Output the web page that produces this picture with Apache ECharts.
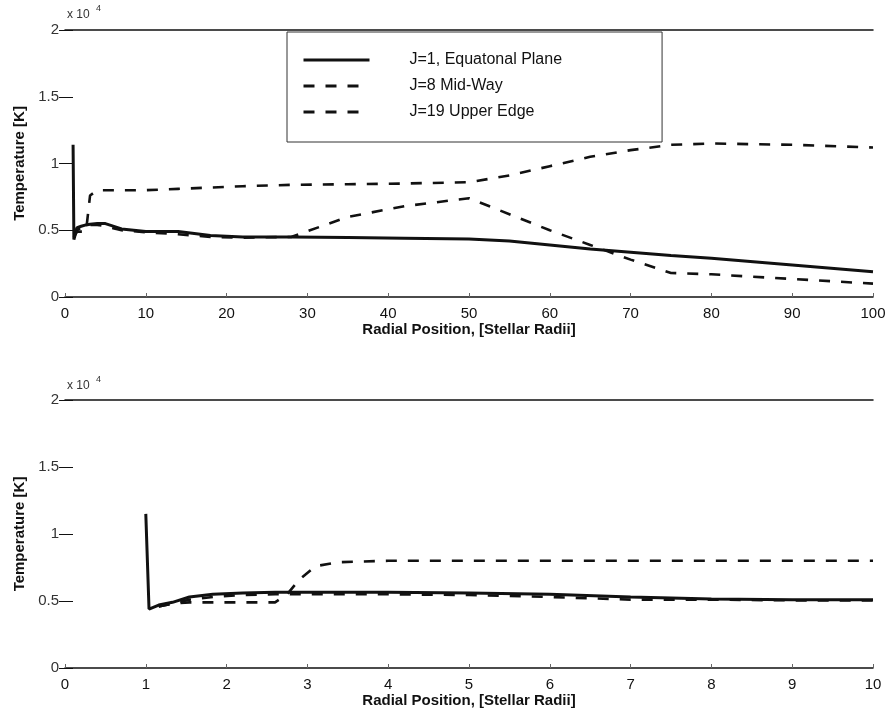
<!DOCTYPE html>
<html>
<head>
<meta charset="utf-8">
<script src="https://cdn.jsdelivr.net/npm/echarts@6/dist/echarts.min.js"></script>
<style>
html,body{margin:0;padding:0;background:#fff;}
#chart{width:893px;height:725px;}
</style>
</head>
<body>
<div id="chart"></div>
<script>
// ---- data (temperature in units of 10^4 K) ----
var seriesNames = ['J=1, Equatonal Plane', 'J=8 Mid-Way', 'J=19 Upper Edge'];
var yTicks = [0, 0.5, 1, 1.5, 2];

// top panel: radial position 0-100 stellar radii
var topR   = [1, 1.1, 1.5, 2, 2.6, 3.1, 4, 5, 7, 10, 14, 18, 22, 28, 35, 42, 50, 55, 60, 65, 70, 75, 80, 90, 100];
var topJ1  = [1.14, 0.43, 0.52, 0.53, 0.54, 0.545, 0.55, 0.55, 0.51, 0.49, 0.49, 0.46, 0.45, 0.45, 0.445, 0.44, 0.435, 0.42, 0.39, 0.36, 0.335, 0.31, 0.29, 0.24, 0.19];
var topJ8  = [null, 0.45, 0.5, 0.52, 0.53, 0.54, 0.54, 0.53, 0.5, 0.485, 0.47, 0.45, 0.445, 0.45, 0.6, 0.68, 0.74, 0.62, 0.5, 0.39, 0.28, 0.18, 0.17, 0.135, 0.10];
var topJ19 = [null, 0.45, 0.49, 0.49, 0.49, 0.76, 0.8, 0.8, 0.8, 0.8, 0.81, 0.82, 0.83, 0.84, 0.845, 0.85, 0.86, 0.91, 0.98, 1.05, 1.1, 1.14, 1.15, 1.14, 1.12];

// bottom panel: radial position 0-10 stellar radii
var botR   = [1, 1.04, 1.16, 1.33, 1.54, 1.83, 2.2, 2.6, 2.75, 2.9, 3.1, 3.4, 4, 5, 6, 7, 8, 9, 10];
var botJ1  = [1.15, 0.44, 0.47, 0.49, 0.53, 0.55, 0.56, 0.565, 0.565, 0.565, 0.565, 0.565, 0.565, 0.56, 0.55, 0.53, 0.515, 0.51, 0.51];
var botJ8  = [null, null, 0.46, 0.48, 0.51, 0.53, 0.545, 0.55, 0.55, 0.55, 0.55, 0.55, 0.55, 0.545, 0.53, 0.51, 0.51, 0.505, 0.505];
var botJ19 = [null, null, 0.46, 0.48, 0.49, 0.49, 0.49, 0.49, 0.55, 0.66, 0.76, 0.79, 0.8, 0.8, 0.8, 0.8, 0.8, 0.8, 0.8];

function pairs(xs, ys) { return xs.map(function (x, i) { return [x, ys[i]]; }); }

var FONT = 'Liberation Sans, Arial, Helvetica, sans-serif';
var INK = '#111';

function xAxes(gridIndex, max, interval) {
  return [{
    type: 'value', gridIndex: gridIndex, min: 0, max: max, interval: interval,
    position: 'bottom',
    axisLine: { show: true, onZero: false, lineStyle: { color: INK, width: 1.5 } },
    axisTick: { show: true, inside: true, length: 4, lineStyle: { color: '#666' } },
    axisLabel: { color: INK, fontFamily: FONT, fontSize: 15, margin: 9 },
    splitLine: { show: false },
    name: 'Radial Position, [Stellar Radii]', nameLocation: 'middle', nameGap: 25,
    nameTextStyle: { color: INK, fontFamily: FONT, fontSize: 15, fontWeight: 'bold' }
  }, {
    type: 'value', gridIndex: gridIndex, min: 0, max: max, interval: interval,
    position: 'top',
    axisLine: { show: true, onZero: false, lineStyle: { color: INK, width: 1.5 } },
    axisTick: { show: false },
    axisLabel: { show: false },
    splitLine: { show: false }
  }];
}
function yAxes(gridIndex) {
  return [{
    type: 'value', gridIndex: gridIndex, min: 0, max: 2, interval: 0.5,
    position: 'left',
    axisLine: { show: false },
    axisTick: { show: true, inside: true, length: 8, lineStyle: { color: INK } },
    axisLabel: { color: '#333', fontFamily: FONT, fontSize: 15, margin: 6,
      formatter: function (v) { return yTicks.indexOf(v) >= 0 ? String(v) : ''; } },
    splitLine: { show: false },
    name: 'Temperature [K]', nameLocation: 'middle', nameGap: 36, nameRotate: 90,
    nameTextStyle: { color: INK, fontFamily: FONT, fontSize: 15, fontWeight: 'bold' }
  }, {
    type: 'value', gridIndex: gridIndex, min: 0, max: 2, interval: 0.5,
    position: 'right',
    axisLine: { show: false },
    axisTick: { show: true, inside: true, length: 6, lineStyle: { color: INK } },
    axisLabel: { show: false },
    splitLine: { show: false }
  }];
}

var styles = [
  { color: INK, width: 3, type: 'solid' },
  { color: INK, width: 2.6, type: [11, 11] },
  { color: INK, width: 2.6, type: [11, 11] }
];

function mkSeries(name, data, xi, yi, st) {
  return {
    name: name, type: 'line', data: data, xAxisIndex: xi, yAxisIndex: yi,
    showSymbol: false, symbol: 'none', smooth: false, connectNulls: false,
    lineStyle: st, itemStyle: { color: INK }, animation: false, z: 3
  };
}

var series = [
  mkSeries(seriesNames[0], pairs(topR, topJ1), 0, 0, styles[0]),
  mkSeries(seriesNames[1], pairs(topR, topJ8), 0, 0, styles[1]),
  mkSeries(seriesNames[2], pairs(topR, topJ19), 0, 0, styles[2]),
  mkSeries(seriesNames[0], pairs(botR, botJ1), 2, 2, styles[0]),
  mkSeries(seriesNames[1], pairs(botR, botJ8), 2, 2, styles[1]),
  mkSeries(seriesNames[2], pairs(botR, botJ19), 2, 2, styles[2])
];

var chart = echarts.init(document.getElementById('chart'), null, { renderer: 'canvas' });
chart.setOption({
  backgroundColor: '#fff',
  animation: false,
  grid: [
    { left: 65, right: 20, top: 30, height: 267 },
    { left: 65, right: 20, top: 400, height: 268 }
  ],
  xAxis: xAxes(0, 100, 10).concat(xAxes(1, 10, 1)),
  yAxis: yAxes(0).concat(yAxes(1)),
  legend: {
    data: seriesNames,
    orient: 'vertical', left: 287, top: 32,
    backgroundColor: '#fff',
    borderColor: '#333', borderWidth: 1,
    padding: [20, 100, 22, 15],
    itemWidth: 66, itemHeight: 14, itemGap: 10,
    selectedMode: false,
    itemStyle: { color: 'rgba(0,0,0,0)', borderColor: 'rgba(0,0,0,0)', borderWidth: 0, opacity: 0 },
    lineStyle: { width: 3 },
    textStyle: { color: INK, fontFamily: FONT, fontSize: 16, padding: [0, 0, 0, 35] }
  },
  graphic: [
    { type: 'text', left: 67, top: 9, style: { text: 'x 10', fill: '#333', font: '12px ' + FONT } },
    { type: 'text', left: 96, top: 4, style: { text: '4', fill: '#333', font: '9px ' + FONT } },
    { type: 'text', left: 67, top: 380, style: { text: 'x 10', fill: '#333', font: '12px ' + FONT } },
    { type: 'text', left: 96, top: 375, style: { text: '4', fill: '#333', font: '9px ' + FONT } }
  ],
  series: series
});
</script>
</body>
</html>
